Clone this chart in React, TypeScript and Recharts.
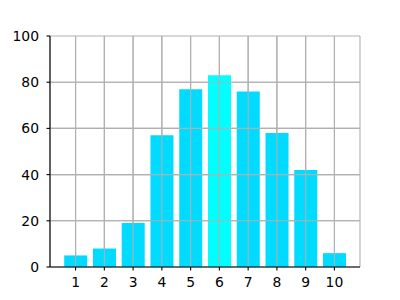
import React from 'react';
import { BarChart, Bar, XAxis, YAxis, CartesianGrid, Cell, ReferenceLine } from 'recharts';

const categories = ['1', '2', '3', '4', '5', '6', '7', '8', '9', '10'];
const values = [5, 8, 19, 57, 77, 83, 76, 58, 42, 6];
const yTicks = [0, 20, 40, 60, 80, 100];
const highlighted = '6';

const data = categories.map((c, i) => ({ name: c, value: values[i] }));

const BAR = '#00dbff';
const HIGHLIGHT = '#00ffff';
const GRID = '#b0b0b0';
const FONT = { fontFamily: 'DejaVu Sans', fontSize: 13.9, fill: '#000' };

export default function App() {
  return (
    <div style={{ position: 'absolute', left: 0, top: 0, width: 400, height: 300, background: '#fff' }}>
      <BarChart width={400} height={300} data={data} margin={{ top: 36, right: 40, bottom: 0, left: 0 }}>
        <CartesianGrid stroke={GRID} strokeWidth={1.1} strokeDasharray="" />
        <XAxis
          dataKey="name"
          padding={{ left: 11.2, right: 11.2 }}
          tick={FONT}
          tickSize={3.5}
          tickMargin={7}
          height={33}
          stroke="#000"
          axisLine={{ stroke: '#000', strokeWidth: 1.1 }}
          tickLine={{ stroke: '#000', strokeWidth: 1.1 }}
          interval={0}
        />
        <XAxis xAxisId="top" dataKey="name" orientation="top" height={0} tick={false} tickLine={false} axisLine={{ stroke: '#000', strokeWidth: 1.1 }} padding={{ left: 11.2, right: 11.2 }} />
        <YAxis
          domain={[0, 100]}
          ticks={yTicks}
          width={50}
          tick={FONT}
          tickSize={3.5}
          tickMargin={7.5}
          axisLine={{ stroke: '#000', strokeWidth: 1.1 }}
          tickLine={{ stroke: '#000', strokeWidth: 1.1 }}
          interval={0}
        />
        <YAxis yAxisId="right" orientation="right" width={0} domain={[0, 100]} tick={false} tickLine={false} axisLine={{ stroke: '#000', strokeWidth: 1.1 }} />
        <Bar dataKey="value" barSize={23} isAnimationActive={false}>
          {data.map((d) => (
            <Cell key={d.name} fill={d.name === highlighted ? HIGHLIGHT : BAR} />
          ))}
        </Bar>
        {categories.map((c) => (
          <ReferenceLine key={'x' + c} x={c} stroke={GRID} strokeWidth={1.1} />
        ))}
        {yTicks.slice(1, -1).map((t) => (
          <ReferenceLine key={'y' + t} y={t} stroke={GRID} strokeWidth={1.1} />
        ))}
      </BarChart>
    </div>
  );
}
